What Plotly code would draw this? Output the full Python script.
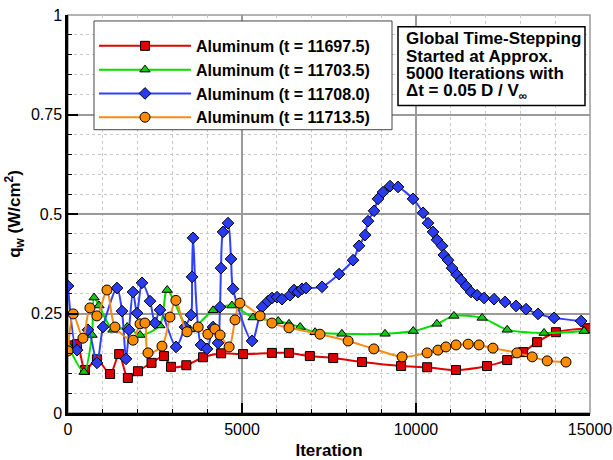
import plotly.graph_objects as go

# ---------------- data ----------------
series_names = [
    "Aluminum (t = 11697.5)",
    "Aluminum (t = 11703.5)",
    "Aluminum (t = 11708.0)",
    "Aluminum (t = 11713.5)",
]

iter_red = [0, 260, 490, 830, 1210, 1470, 1720, 2010, 2400, 2760, 2960, 3400, 3880,
            4400, 5030, 5860, 6350, 6950, 7620, 8450, 9570, 10320, 11150, 12040,
            12620, 13080, 13480, 14020, 14920]
q_red = [0.170, 0.173, 0.108, 0.135, 0.098, 0.148, 0.088, 0.105, 0.126, 0.143, 0.116, 0.120, 0.140,
         0.150, 0.148, 0.151, 0.151, 0.143, 0.138, 0.128, 0.118, 0.115, 0.108, 0.118,
         0.133, 0.153, 0.178, 0.203, 0.213]

iter_green = [0, 460, 690, 750, 890, 1290, 1700, 2070, 2640, 2850, 3500, 4170, 4710,
              5320, 6040, 6350, 6670, 7100, 7870, 9110, 9920, 10600, 11090, 11900,
              12620, 13680, 14830]
q_green = [0.170, 0.103, 0.196, 0.290, 0.270, 0.209, 0.216, 0.196, 0.220, 0.309, 0.210, 0.258, 0.270,
           0.240, 0.231, 0.224, 0.216, 0.203, 0.199, 0.199, 0.206, 0.224, 0.244, 0.239,
           0.209, 0.201, 0.206]

iter_blue = [0, 260, 575, 833, 1006, 1408, 1552, 1667, 1753, 1868, 1983, 2127, 2357,
             2500, 2644, 3104, 3363, 3535, 3564, 3593, 3822, 3995, 4167, 4311, 4368,
             4397, 4454, 4598, 4685, 4742, 5288, 5576, 5748, 5863, 6007, 6150, 6380,
             6495, 6610, 6725, 6840, 7300, 7789, 8191, 8363, 8536, 8622, 8794, 8909,
             9053, 9254, 9484, 9915, 10203, 10346, 10490, 10605, 10749, 10800, 10921,
             11036, 11180, 11295, 11439, 11582, 11755, 11956, 12243, 12559, 12876,
             13163, 13508, 13968, 14744]
q_blue = [0.319, 0.158, 0.209, 0.126, 0.216, 0.314, 0.256, 0.136, 0.209, 0.304, 0.251, 0.327, 0.281,
          0.226, 0.259, 0.166, 0.216, 0.246, 0.342, 0.440, 0.171, 0.161, 0.216, 0.176, 0.266,
          0.364, 0.455, 0.477, 0.387, 0.312, 0.181, 0.266, 0.281, 0.289, 0.291, 0.286, 0.296,
          0.309, 0.304, 0.312, 0.314, 0.317, 0.349, 0.384, 0.420, 0.447, 0.482, 0.508, 0.538,
          0.555, 0.570, 0.568, 0.538, 0.503, 0.477, 0.455, 0.435, 0.420, 0.397, 0.384,
          0.364, 0.347, 0.334, 0.319, 0.304, 0.296, 0.289, 0.286, 0.279, 0.269,
          0.261, 0.249, 0.239, 0.231]

iter_orange = [0, 150, 430, 630, 830, 1120, 1350, 1870, 2070, 2210, 2300, 2700, 2930,
               3100, 3420, 3740, 4020, 4220, 4370, 4630, 4800, 4940, 5520, 5860, 6350,
               7240, 8050, 8790, 9600, 10320, 10630, 10860, 11150, 11500, 11810, 12210,
               12900, 13340, 13770, 14310]
q_orange = [0.156, 0.249, 0.188, 0.264, 0.244, 0.309, 0.216, 0.183, 0.224, 0.226, 0.151, 0.168, 0.241,
            0.283, 0.204, 0.216, 0.198, 0.211, 0.196, 0.166, 0.234, 0.276, 0.244, 0.226, 0.214,
            0.198, 0.181, 0.161, 0.141, 0.151, 0.158, 0.166, 0.171, 0.173, 0.171, 0.163,
            0.151, 0.141, 0.131, 0.128]

x_ticks = [0, 5000, 10000, 15000]
y_ticks = [0, 0.25, 0.5, 0.75, 1]
note_lines = ["Global Time-Stepping", "Started at Approx.", "5000 Iterations with",
              "\u0394t = 0.05 D / V<sub>\u221e</sub>"]

# ---------------- figure ----------------
FONT = "Liberation Sans, Arial, sans-serif"
styles = [
    dict(line="#e00000", fill="#dd0000", symbol="square", size=9),
    dict(line="#00dd00", fill="#16c816", symbol="triangle-up", size=9),
    dict(line="#3040ff", fill="#2a3cf0", symbol="diamond", size=9),
    dict(line="#ff8a10", fill="#ff8c00", symbol="circle", size=10),
]
data = [(iter_red, q_red), (iter_green, q_green), (iter_blue, q_blue), (iter_orange, q_orange)]

fig = go.Figure()
for name, (xs, ys), st in zip(series_names, data, styles):
    fig.add_trace(go.Scatter(
        x=xs, y=ys, name=name, mode="lines+markers",
        line=dict(color=st["line"], width=2, shape="spline", smoothing=0.8),
        marker=dict(symbol=st["symbol"], size=st["size"], color=st["fill"],
                    line=dict(color="black", width=1)),
    ))

fig.update_layout(
    width=613, height=460,
    margin=dict(l=68, r=23, t=15, b=47),
    paper_bgcolor="white", plot_bgcolor="white",
    font=dict(family=FONT, size=16, color="black"),
    showlegend=True,
    legend=dict(
        x=0.0498, y=0.965, xanchor="left", yanchor="top",
        bgcolor="rgba(0,0,0,0)", borderwidth=0,
        font=dict(family=FONT, size=16, color="black", weight="bold"),
        itemwidth=92, tracegroupgap=0,
    ),
)

fig.update_xaxes(
    range=[0, 15000], tickvals=x_ticks, ticktext=[str(v) for v in x_ticks],
    showline=True, linecolor="black", linewidth=2.5,
    ticks="inside", ticklen=10, tickwidth=2, tickcolor="black",
    showgrid=True, gridcolor="#9a9a9a", gridwidth=1.5,
    zeroline=False,
    minor=dict(dtick=1000, tick0=0, showgrid=True, gridcolor="#c8c8c8", griddash="dot",
               gridwidth=1, ticks="inside", ticklen=4, tickcolor="black", tickwidth=1),
    tickfont=dict(size=16),
    title=dict(text="<b>Iteration</b>", font=dict(size=17), standoff=10),
    automargin=False,
)
fig.update_yaxes(
    range=[0, 1], tickvals=y_ticks,
    showline=True, linecolor="black", linewidth=2.5,
    ticks="inside", ticklen=10, tickwidth=2, tickcolor="black",
    showgrid=True, gridcolor="#9a9a9a", gridwidth=1.5,
    zeroline=False,
    minor=dict(dtick=0.05, tick0=0, showgrid=True, gridcolor="#c8c8c8", griddash="dot",
               gridwidth=1, ticks="inside", ticklen=4, tickcolor="black", tickwidth=1),
    tickfont=dict(size=16),
    title=dict(text="<b>q<sub>w</sub> (W/cm<sup>2</sup>)</b>", font=dict(size=17), standoff=6),
    automargin=False,
)

# gray frame on top/right
fig.add_shape(type="rect", xref="paper", yref="paper", x0=0, y0=0, x1=1, y1=1,
              line=dict(color="#9a9a9a", width=1.5), layer="below")

# legend box
fig.add_shape(type="rect", xref="paper", yref="paper", x0=0.0498, x1=0.6207, y0=0.7118, y1=0.985,
              line=dict(color="#444444", width=1), fillcolor="white", layer="above")

# note box
fig.add_shape(type="rect", xref="paper", yref="paper", x0=0.6322, x1=0.9904, y0=0.7729, y1=0.9704,
              line=dict(color="black", width=1.5), fillcolor="white", layer="above")
note_y = [0.9407, 0.8962, 0.8518, 0.8053]
for txt, yy in zip(note_lines, note_y):
    fig.add_annotation(text="<b>" + txt + "</b>", xref="paper", yref="paper",
                       x=0.6431, y=yy, xanchor="left", yanchor="middle", showarrow=False,
                       font=dict(family=FONT, size=17, color="black"))

fig.write_html("out.html")
